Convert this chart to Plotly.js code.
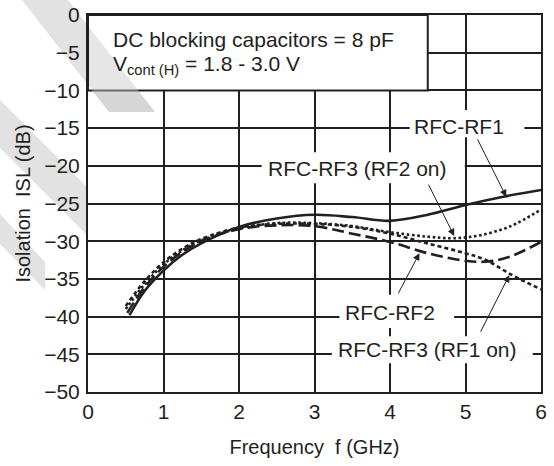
<!DOCTYPE html>
<html>
<head>
<meta charset="utf-8">
<script src="https://cdn.plot.ly/plotly-3.0.1.min.js"></script>
<style>html,body{margin:0;padding:0;background:#fff;}#chart{width:554px;height:466px;}</style>
</head>
<body>
<div id="chart"></div>
<script>
// ---- data ----
const xRF1 = [0.55, 0.75, 1, 1.25, 1.5, 2, 2.5, 3, 3.5, 4, 4.5, 5, 5.5, 6];
const yRF1 = [-39.8, -36.6, -33.9, -31.8, -30.3, -28.1, -27.0, -26.5, -26.8, -27.3, -26.5, -25.2, -24.1, -23.2];

const xRF2 = [0.52, 0.75, 1, 1.25, 1.5, 2, 2.5, 3, 3.5, 4, 4.5, 5, 5.3, 5.6, 6];
const yRF2 = [-39.5, -36.1, -33.4, -31.4, -30.0, -28.4, -27.9, -28.0, -29.0, -30.1, -31.6, -32.6, -32.7, -32.0, -30.1];

const xRF3on2 = [0.5, 0.75, 1, 1.25, 1.5, 2, 2.5, 3, 3.5, 4, 4.5, 4.85, 5.2, 5.6, 6];
const yRF3on2 = [-39.0, -35.7, -33.1, -31.2, -29.9, -28.3, -27.6, -27.6, -28.0, -28.8, -29.4, -29.6, -29.2, -28.0, -25.8];

const xRF3on1 = [0.5, 0.75, 1, 1.25, 1.5, 2, 2.5, 3, 3.5, 4, 4.5, 5, 5.27, 5.6, 6];
const yRF3on1 = [-38.6, -35.3, -32.8, -31.0, -29.7, -28.2, -27.7, -27.7, -28.1, -29.0, -30.3, -31.6, -32.5, -34.4, -36.4];

const seriesNames = ['RFC-RF1', 'RFC-RF2', 'RFC-RF3 (RF2 on)', 'RFC-RF3 (RF1 on)'];
const xTicks = [0, 1, 2, 3, 4, 5, 6];
const yTicks = [0, -5, -10, -15, -20, -25, -30, -35, -40, -45, -50];

// ---- styling ----
const INK = '#231f20';
const FONT = 'Liberation Sans, Arial, Helvetica, sans-serif';
const L = 88, R = 541, T = 15, B = 392, W = 554, H = 466;
const px = v => (v - L) / (R - L);
const py = v => (B - v) / (B - T);
function pathPx(pts) {
  return 'M ' + pts.map(p => px(p[0]).toFixed(4) + ',' + py(p[1]).toFixed(4)).join(' L ') + ' Z';
}

const lw = 2.6;
const traces = [
  {x: xRF1, y: yRF1, name: seriesNames[0], mode: 'lines', line: {color: INK, width: lw, shape: 'spline', smoothing: 1}},
  {x: xRF2, y: yRF2, name: seriesNames[1], mode: 'lines', line: {color: INK, width: lw, dash: '12px,5px', shape: 'spline', smoothing: 1}},
  {x: xRF3on2, y: yRF3on2, name: seriesNames[2], mode: 'lines', line: {color: INK, width: lw, dash: '2.6px,2.6px', shape: 'spline', smoothing: 1}},
  {x: xRF3on1, y: yRF3on1, name: seriesNames[3], mode: 'lines', line: {color: INK, width: lw, dash: '4px,3px', shape: 'spline', smoothing: 1}}
];

const wm = '#e2e2e2';
const wmA = 'rgba(200,200,200,0.45)';
const shapes = [
  // watermark bands in the margins
  {type: 'path', xref: 'paper', yref: 'paper', layer: 'below', path: pathPx([[22,0],[68,0],[155,112],[109,112]]), fillcolor: wm, line: {width: 0}},
  {type: 'path', xref: 'paper', yref: 'paper', layer: 'below', path: pathPx([[0,100],[88,188],[88,236],[0,148]]), fillcolor: wm, line: {width: 0}},
  {type: 'path', xref: 'paper', yref: 'paper', layer: 'below', path: pathPx([[0,214],[45,262],[45,290],[0,244]]), fillcolor: wm, line: {width: 0}},
  // top information box
  {type: 'rect', xref: 'x', yref: 'y', layer: 'above', x0: 0, x1: 4.5, y0: -10, y1: 0, fillcolor: '#ffffff', line: {color: INK, width: 2}},
  // white label backgrounds
  {type: 'rect', xref: 'x', yref: 'y', layer: 'above', x0: 4.26, x1: 5.78, y0: -16.2, y1: -12.6, fillcolor: '#ffffff', line: {width: 0}},
  {type: 'rect', xref: 'x', yref: 'y', layer: 'above', x0: 2.3, x1: 4.99, y0: -22.3, y1: -18.2, fillcolor: '#ffffff', line: {width: 0}},
  {type: 'rect', xref: 'x', yref: 'y', layer: 'above', x0: 3.33, x1: 4.85, y0: -41.5, y1: -37.1, fillcolor: '#ffffff', line: {width: 0}},
  {type: 'rect', xref: 'x', yref: 'y', layer: 'above', x0: 3.23, x1: 5.89, y0: -46.2, y1: -42.6, fillcolor: '#ffffff', line: {width: 0}},
  // watermark band inside the box (semi-transparent, above)
  {type: 'path', xref: 'paper', yref: 'paper', layer: 'above', path: pathPx([[89,27],[155,112],[109,112],[89,86.2]]), fillcolor: wmA, line: {width: 0}}
];

const tf = {family: FONT, size: 21, color: INK};
function label(text, x, y, anchor) {
  return {text: text, x: x, y: y, xref: 'x', yref: 'y', showarrow: false, xanchor: anchor || 'center', yanchor: 'middle', font: tf};
}
function arrow(x, y, ax, ay) {
  return {text: '', x: x, y: y, ax: ax, ay: ay, xref: 'x', yref: 'y', axref: 'x', ayref: 'y',
          showarrow: true, arrowhead: 2, arrowsize: 1.4, arrowwidth: 1, arrowcolor: INK, standoff: 0, startstandoff: 0};
}

const annotations = [
  label('DC blocking capacitors = 8 pF', 0.31, -3.25, 'left'),
  label('V<sub>cont (H)</sub> = 1.8 - 3.0 V', 0.31, -6.6, 'left'),
  label(seriesNames[0], 4.91, -14.85),
  label(seriesNames[2], 3.57, -20.4),
  label(seriesNames[1], 4.0, -39.4),
  label(seriesNames[3], 4.49, -44.4),
  arrow(5.54, -24.1, 5.15, -16.3),
  arrow(4.85, -29.3, 4.5, -22.3),
  arrow(4.39, -31.6, 4.1, -37.1),
  arrow(5.58, -34.5, 5.19, -42.2)
];

const layout = {
  width: W, height: H,
  margin: {l: L, r: W - R, t: T, b: H - B, pad: 0},
  paper_bgcolor: '#ffffff',
  plot_bgcolor: '#ffffff',
  showlegend: false,
  font: {family: FONT, size: 21, color: INK},
  xaxis: {
    range: [0, 6], tickvals: xTicks, ticktext: xTicks.map(String),
    showgrid: true, gridcolor: INK, gridwidth: 2,
    showline: true, linecolor: INK, linewidth: 2, mirror: true,
    zeroline: false, ticks: '', ticklabelstandoff: 0,
    tickfont: {family: FONT, size: 21, color: INK},
    title: {text: 'Frequency\u00a0\u00a0f (GHz)', font: {family: FONT, size: 20, color: INK}, standoff: 18}
  },
  yaxis: {
    range: [-50, 0], tickvals: yTicks,
    showgrid: true, gridcolor: INK, gridwidth: 2,
    showline: true, linecolor: INK, linewidth: 2, mirror: true,
    zeroline: false, ticks: '', ticklabelstandoff: 2,
    tickfont: {family: FONT, size: 21, color: INK},
    title: {text: 'Isolation\u00a0\u00a0ISL (dB)', font: {family: FONT, size: 20, color: INK}, standoff: 8}
  },
  shapes: shapes,
  annotations: annotations
};

Plotly.newPlot('chart', traces, layout, {staticPlot: true, displayModeBar: false});
</script>
</body>
</html>
